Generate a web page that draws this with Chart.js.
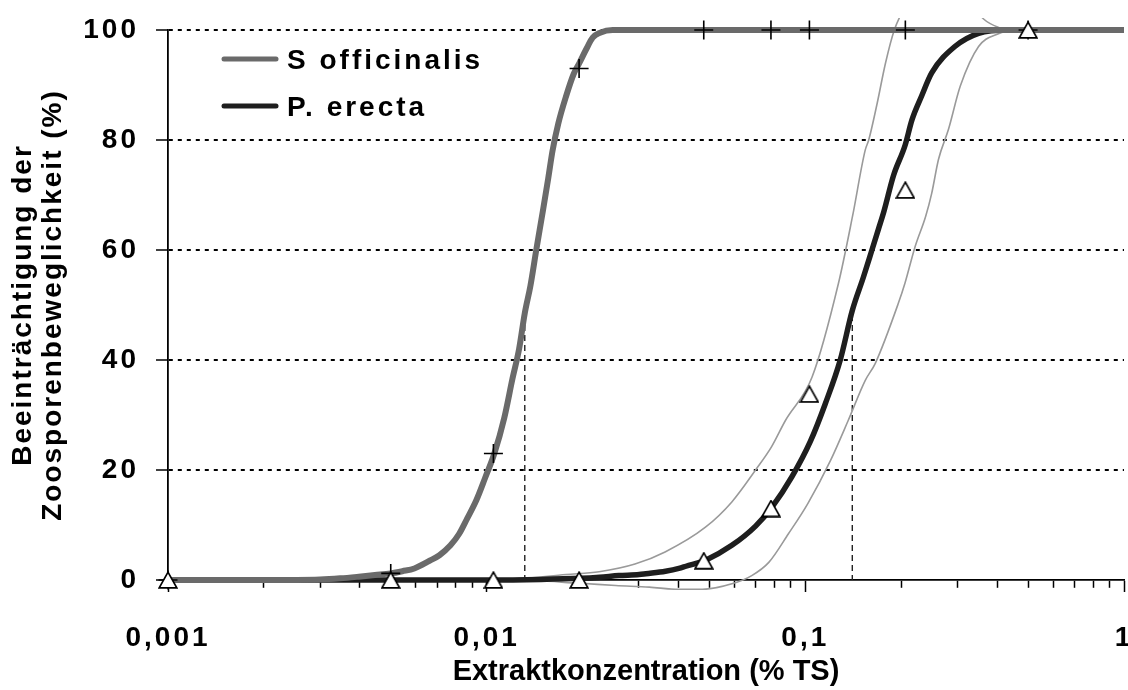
<!DOCTYPE html>
<html lang="de">
<head>
  <meta charset="UTF-8" />
  <title>Zoosporenbeweglichkeit</title>
  <script src="https://cdn.jsdelivr.net/npm/chart.js"></script>
  <style>
    html, body { margin: 0; padding: 0; background: #fff; }
    #wrap { width: 1128px; height: 690px; }
  </style>
</head>
<body>
<div id="wrap"><canvas id="chart" width="1128" height="690"></canvas></div>
<script>
  // measured points (symbols)
  const pointX = [0.001, 0.005, 0.0105, 0.0195, 0.048, 0.078, 0.103, 0.206, 0.5];
  const sOffPoints = [0, 1.2, 23, 93, 100, 100, 100, 100, 100];
  const pErPoints = [0, 0, 0, 0, 3.5, 13, 33.8, 70.9, 100];

  // fitted curve S officinalis
  const sOffX = [0.001, 0.002, 0.003, 0.00347, 0.00397, 0.00446, 0.005, 0.00544, 0.00593, 0.00662, 0.00711, 0.0077, 0.0082, 0.00869, 0.00928, 0.00988, 0.01057, 0.01136, 0.01205, 0.01264, 0.01317, 0.01372, 0.01431, 0.015, 0.0156, 0.01609, 0.01678, 0.01776, 0.01875, 0.01954, 0.02053, 0.02151, 0.02269, 0.02486, 0.03, 0.05, 0.1, 0.2, 0.5, 1];
  const sOffY = [0, 0, 0.1, 0.3, 0.6, 0.9, 1.2, 1.6, 2.1, 3.5, 4.5, 6.3, 8.4, 11.2, 14.5, 18.5, 23, 29.5, 36.6, 42, 48.5, 53.5, 60, 67, 73, 78, 83, 88, 92, 94, 96.5, 98.6, 99.5, 100, 100, 100, 100, 100, 100, 100];

  // fitted curve P. erecta with confidence band
  const pErX = [0.001, 0.01, 0.0148, 0.0197, 0.0226, 0.026, 0.0301, 0.0316, 0.0364, 0.0401, 0.0422, 0.049, 0.0588, 0.0698, 0.0787, 0.0908, 0.1037, 0.1156, 0.1287, 0.1404, 0.152, 0.1618, 0.1696, 0.1764, 0.189, 0.2055, 0.2162, 0.2317, 0.2492, 0.2946, 0.3497, 0.4339, 0.5, 1];
  const pErY = [0, 0, 0.1, 0.3, 0.5, 0.8, 1.0, 1.15, 1.6, 2.1, 2.5, 3.7, 6.3, 9.8, 13.3, 18.8, 25.2, 32.1, 40, 49, 55, 60, 63.8, 67, 73.5, 79, 83.7, 88, 92.2, 97, 99.4, 100, 100, 100];
  const pErHiX = [0.001, 0.01, 0.01235, 0.01774, 0.02254, 0.0292, 0.0363, 0.0486, 0.0588, 0.0698, 0.0783, 0.0866, 0.105, 0.127, 0.1406, 0.1542, 0.1581, 0.1678, 0.1785, 0.1902, 0.2048, 0.2436, 0.2919, 0.3306, 0.3625, 0.4078, 0.4367, 1];
  const pErHiY = [0, 0, 0.2, 1.0, 1.5, 2.9, 5.1, 9.6, 14.2, 20, 24.2, 29, 36.9, 53.9, 66.1, 78.2, 80, 86.5, 94, 100, 104, 110, 110, 105, 102, 100.4, 100, 100];
  const pErLoX = [0.001, 0.01235, 0.0197, 0.0254, 0.0324, 0.0401, 0.0475, 0.0588, 0.0679, 0.0768, 0.0885, 0.1018, 0.1201, 0.1363, 0.1542, 0.1658, 0.1958, 0.2055, 0.221, 0.2385, 0.2492, 0.2618, 0.2812, 0.3064, 0.3497, 0.3983, 0.4655, 1];
  const pErLoY = [0, 0, -0.6, -1.0, -1.3, -1.7, -1.7, -0.7, 0.8, 3.2, 8.4, 13.9, 21.8, 29, 36.3, 39.4, 50.3, 54, 60.6, 66.1, 70.3, 76.5, 81.9, 89.8, 97, 99.2, 100, 100];

  // EC50 markers
  const ec50X = [0.01317, 0.1404];
  const ec50Y = 50;

  const xTickValues = [0.001, 0.01, 0.1, 1];
  const xTickLabels = ['0,001', '0,01', '0,1', '1'];
  const yTickValues = [0, 20, 40, 60, 80, 100];
  const yTitleLines = ['Beeinträchtigung der', 'Zoosporenbeweglichkeit (%)'];

  const FONT = '"Liberation Sans", Arial, sans-serif';
  Chart.defaults.font.family = FONT;
  Chart.defaults.color = '#000';

  const pts = (xs, ys) => xs.map((x, i) => ({ x: x, y: ys[i] }));
  const isMajor = v => xTickValues.some(t => Math.abs(t - v) / t < 1e-6);

  // minor ticks 1..9 per decade
  const xAxisTicks = [];
  for (let d = 0; d < xTickValues.length - 1; d++) {
    for (let m = 1; m <= 9; m++) xAxisTicks.push(Number((m * xTickValues[d]).toPrecision(3)));
  }
  xAxisTicks.push(xTickValues[xTickValues.length - 1]);

  function triangleImage() {
    const c = document.createElement('canvas');
    c.width = 20; c.height = 18;
    const g = c.getContext('2d');
    g.beginPath();
    g.moveTo(10, 1.2); g.lineTo(18.8, 16.8); g.lineTo(1.2, 16.8); g.closePath();
    g.fillStyle = '#fff'; g.fill();
    g.lineWidth = 1.7; g.strokeStyle = '#000'; g.stroke();
    return c;
  }

  const extras = {
    id: 'extras',
    beforeDraw(chart) { chart.ctx.letterSpacing = '0px'; },
    beforeDatasetsDraw(chart) {
      // y title, two lines, slightly spaced
      const ctx = chart.ctx;
      const a = chart.chartArea;
      ctx.save();
      ctx.letterSpacing = '2px';
      ctx.font = 'bold 28px ' + FONT;
      ctx.fillStyle = '#000';
      ctx.textAlign = 'center';
      ctx.textBaseline = 'middle';
      ctx.translate(23, (a.top + a.bottom) / 2);
      ctx.rotate(-Math.PI / 2);
      yTitleLines.forEach((t, i) => ctx.fillText(t, 0, i * 30));
      ctx.restore();
    },
    afterDatasetsDraw(chart) { chart.ctx.letterSpacing = '3px'; },
    afterDraw(chart) {
      const ctx = chart.ctx;
      ctx.save();
      ctx.letterSpacing = '3px';
      ctx.font = 'bold 28px ' + FONT;
      ctx.textBaseline = 'middle';
      ctx.textAlign = 'left';
      chart.data.datasets.filter(d => d.inLegend).forEach((d, i) => {
        const y = 59 + i * 47;
        ctx.strokeStyle = d.borderColor;
        ctx.lineWidth = 5;
        ctx.lineCap = 'round';
        ctx.beginPath(); ctx.moveTo(224, y); ctx.lineTo(276, y); ctx.stroke();
        ctx.fillStyle = '#000';
        ctx.fillText(d.label, 287, y + 2);
      });
      ctx.restore();
      ctx.letterSpacing = '0px';
    }
  };

  const bandClip = { left: 0, top: 12, right: 0, bottom: 10 };

  new Chart(document.getElementById('chart'), {
    type: 'scatter',
    data: {
      datasets: [
        { label: 'Messwerte S officinalis', data: pts(pointX, sOffPoints), pointStyle: 'cross', pointRadius: 9.5,
          borderColor: '#000', borderWidth: 1.6, showLine: false, clip: false, order: 1 },
        { label: 'Messwerte P. erecta', data: pts(pointX, pErPoints), pointStyle: triangleImage(),
          showLine: false, clip: false, order: 0 },
        { label: 'S officinalis', inLegend: true, data: pts(sOffX, sOffY), showLine: true, borderColor: '#6a6a6a',
          borderWidth: 6, pointRadius: 0, cubicInterpolationMode: 'monotone', clip: bandClip, order: 2 },
        { label: 'P. erecta', inLegend: true, data: pts(pErX, pErY), showLine: true, borderColor: '#1e1e1e',
          borderWidth: 5.5, pointRadius: 0, cubicInterpolationMode: 'monotone', clip: bandClip, order: 3 },
        { label: 'P. erecta obere Grenze', data: pts(pErHiX, pErHiY), showLine: true, borderColor: '#9a9a9a',
          borderWidth: 1.6, pointRadius: 0, cubicInterpolationMode: 'monotone', clip: bandClip, order: 4 },
        { label: 'P. erecta untere Grenze', data: pts(pErLoX, pErLoY), showLine: true, borderColor: '#9a9a9a',
          borderWidth: 1.6, pointRadius: 0, cubicInterpolationMode: 'monotone', clip: bandClip, order: 4 },
        { label: 'EC50 S officinalis', data: [{ x: ec50X[0], y: ec50Y }, { x: ec50X[0], y: 0 }], showLine: true,
          borderColor: '#222', borderWidth: 1.4, borderDash: [6, 4], pointRadius: 0, order: 5 },
        { label: 'EC50 P. erecta', data: [{ x: ec50X[1], y: ec50Y }, { x: ec50X[1], y: 0 }], showLine: true,
          borderColor: '#222', borderWidth: 1.4, borderDash: [6, 4], pointRadius: 0, order: 5 }
      ]
    },
    options: {
      responsive: false,
      animation: false,
      devicePixelRatio: 1,
      layout: { autoPadding: false, padding: { left: 0, right: 4, top: 30, bottom: 0 } },
      plugins: { legend: { display: false }, tooltip: { enabled: false } },
      scales: {
        x: {
          type: 'logarithmic',
          min: 0.001,
          max: 1,
          afterBuildTicks: scale => { scale.ticks = xAxisTicks.map(v => ({ value: v, major: isMajor(v) })); },
          afterFit: scale => { scale.height = 110; scale.paddingLeft = 0; scale.paddingRight = 0; },
          ticks: {
            autoSkip: false, maxRotation: 0, minRotation: 0, padding: 29, z: 1,
            font: { size: 28, weight: 'bold' },
            callback: v => {
              const k = xTickValues.findIndex(t => Math.abs(t - v) / t < 1e-6);
              return k >= 0 ? xTickLabels[k] : '';
            }
          },
          grid: {
            drawOnChartArea: false, tickLength: 12, tickColor: '#000', tickWidth: 1.5,
            tickBorderDash: ctx => (ctx.tick && isMajor(ctx.tick.value)) ? [] : [7, 20]
          },
          border: { color: '#000', width: 1.8 },
          title: { display: true, text: 'Extraktkonzentration (% TS)', font: { size: 29, weight: 'bold' },
                   padding: { top: 0, bottom: 1 } }
        },
        y: {
          min: 0,
          max: 100,
          afterBuildTicks: scale => { scale.ticks = yTickValues.map(v => ({ value: v })); },
          afterFit: scale => { scale.width = 168; scale.paddingTop = 0; scale.paddingBottom = 0; },
          ticks: { padding: 17, z: 1, font: { size: 28, weight: 'bold' } },
          grid: {
            color: ctx => (ctx.tick && ctx.tick.value === 0) ? 'rgba(0,0,0,0)' : '#000',
            lineWidth: 2, tickLength: 12, tickColor: '#000', tickWidth: 1.5, tickBorderDash: []
          },
          border: { color: '#000', width: 1.8, dash: [4, 5] },
          title: { display: false }
        }
      }
    },
    plugins: [extras]
  });
</script>
</body>
</html>
